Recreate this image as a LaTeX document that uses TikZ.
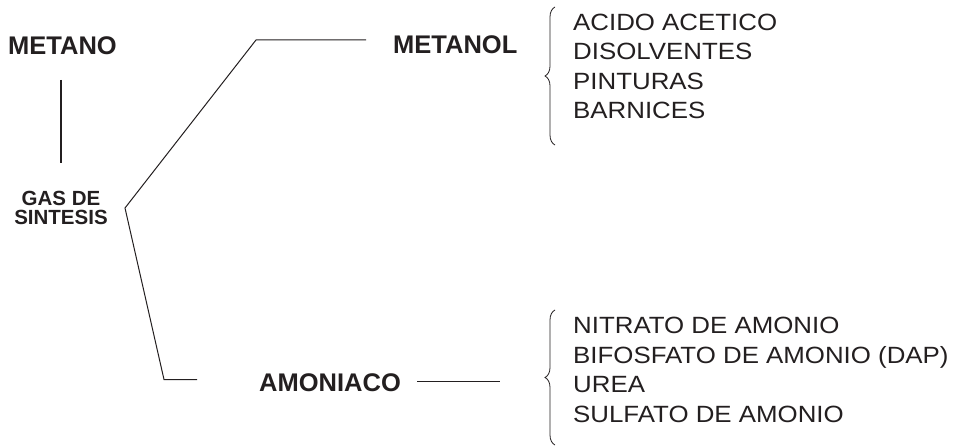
\documentclass[tikz,border=0pt]{standalone}
\usepackage{fontspec}
\setmainfont{Liberation Sans}
\newfontfamily\widefont{Liberation Sans}[FakeStretch=1.1]
\usetikzlibrary{decorations.pathreplacing}
\definecolor{ink}{HTML}{231F20}
\tikzset{
  bigbold/.style={inner sep=0pt, anchor=base west, text=ink, font=\fontsize{25.5}{30}\selectfont\bfseries},
  smallbold/.style={inner sep=0pt, align=center, text=ink, font=\fontsize{20.5}{19}\selectfont\bfseries},
  listtext/.style={inner sep=0pt, anchor=north west, align=left, text=ink, font=\widefont\fontsize{23.5}{29.6}\selectfont},
  conn/.style={draw=ink, line width=1pt},
  bracestyle/.style={draw=ink, line width=0.8pt, decorate, decoration={brace, amplitude=10pt, aspect=0.5}}
}
\begin{document}
\begin{tikzpicture}[x=1pt,y=-1pt]
\useasboundingbox (0,0) rectangle (963,446);
% nodes
\node[bigbold] (metano) at (8,55) {METANO};
\node[smallbold] (gas) at (61,208) {GAS DE\\SINTESIS};
\node[bigbold] (metanol) at (393,54) {METANOL};
\node[bigbold] (amoniaco) at (259,391.5) {AMONIACO};
\node[listtext] (list1) at (573,13.5) {ACIDO ACETICO\\DISOLVENTES\\PINTURAS\\BARNICES};
\node[listtext] (list2) at (573,317) {NITRATO DE AMONIO\\BIFOSFATO DE AMONIO (DAP)\\UREA\\SULFATO DE AMONIO};
% connector points
\coordinate (v1) at (61,80);
\coordinate (v2) at (61,163);
\coordinate (m1) at (366,40);
\coordinate (m2) at (256,40);
\coordinate (g) at (125,208);
\coordinate (a1) at (164,379.5);
\coordinate (a2) at (197,379.5);
\coordinate (r1) at (417,381);
\coordinate (r2) at (500,381);
\coordinate (b1b) at (555,145);
\coordinate (b1t) at (555,7);
\coordinate (b2b) at (555,445);
\coordinate (b2t) at (555,310);
% connectors
\draw[conn, line width=1.2pt] (v1) -- (v2);
\draw[conn] (m1) -- (m2) -- (g) -- (a1) -- (a2);
\draw[conn] (r1) -- (r2);
\draw[bracestyle] (b1b) -- (b1t);
\draw[bracestyle] (b2b) -- (b2t);
\end{tikzpicture}
\end{document}
